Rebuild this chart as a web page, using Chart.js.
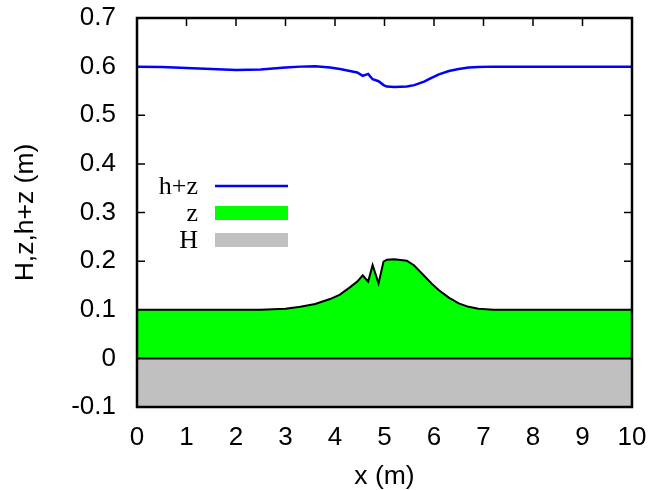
<!DOCTYPE html>
<html lang="en">
<head>
<meta charset="UTF-8" />
<title>H, z, h+z</title>
<script src="https://cdn.jsdelivr.net/npm/chart.js"></script>
<style>
  html, body { margin: 0; padding: 0; background: #fff; }
  #wrap { width: 654px; height: 490px; }
</style>
</head>
<body>
<div id="wrap"><canvas id="plot" width="654" height="490"></canvas></div>
<script>
  // positions along the channel (m)
  const xs = [0, 0.5, 1, 1.5, 2, 2.5, 3, 3.3, 3.6, 3.9, 4.1, 4.3, 4.45, 4.56, 4.67, 4.76, 4.88, 4.98,
              5.05, 5.2, 5.45, 5.6, 5.8, 5.95, 6.1, 6.3, 6.5, 6.7, 6.9, 7.2, 7.5, 8, 9, 10];
  // free surface h+z
  const hzVals = [0.600, 0.599, 0.597, 0.595, 0.593, 0.594, 0.598, 0.600, 0.601, 0.598, 0.595, 0.591, 0.588,
                  0.581, 0.585, 0.574, 0.570, 0.562, 0.559, 0.558, 0.559, 0.562, 0.569, 0.577, 0.584, 0.591,
                  0.595, 0.598, 0.599, 0.600, 0.600, 0.600, 0.600, 0.600];
  // bed z
  const zVals = [0.100, 0.100, 0.100, 0.100, 0.100, 0.100, 0.102, 0.106, 0.112, 0.122, 0.131, 0.146, 0.158,
                 0.171, 0.158, 0.192, 0.154, 0.199, 0.203, 0.204, 0.201, 0.191, 0.170, 0.154, 0.140, 0.125,
                 0.113, 0.106, 0.102, 0.100, 0.100, 0.100, 0.100, 0.100];
  // H (reference level)
  const hX = [0, 10];
  const hVals = [0, 0];

  const xTicks = [0, 1, 2, 3, 4, 5, 6, 7, 8, 9, 10];
  const yTicks = [-0.1, 0, 0.1, 0.2, 0.3, 0.4, 0.5, 0.6, 0.7];
  const yTickLabels = ['-0.1', '0', '0.1', '0.2', '0.3', '0.4', '0.5', '0.6', '0.7'];

  const sans = 'Liberation Sans, Arial, sans-serif';
  const serif = 'Liberation Serif, Times New Roman, serif';

  const pts = (xa, ya) => xa.map((x, i) => ({ x: x, y: ya[i] }));

  // frame, inward ticks on all four sides, and a gnuplot style key
  const frame = {
    id: 'frame',
    beforeDatasetsDraw(chart) {
      const { ctx, chartArea: a, scales: { x, y } } = chart;
      ctx.save();
      ctx.strokeStyle = '#000';
      ctx.lineWidth = 1.5;
      ctx.beginPath();
      xTicks.forEach(v => {
        const px = x.getPixelForValue(v);
        ctx.moveTo(px, a.bottom); ctx.lineTo(px, a.bottom - 8);
        ctx.moveTo(px, a.top); ctx.lineTo(px, a.top + 8);
      });
      yTicks.forEach(v => {
        const py = y.getPixelForValue(v);
        ctx.moveTo(a.left, py); ctx.lineTo(a.left + 8, py);
        ctx.moveTo(a.right, py); ctx.lineTo(a.right - 8, py);
      });
      ctx.stroke();
      ctx.restore();
    },
    afterDatasetsDraw(chart) {
      const { ctx, chartArea: a } = chart;
      ctx.save();
      ctx.strokeStyle = '#000';
      ctx.lineWidth = 2.5;
      ctx.strokeRect(a.left, a.top, a.right - a.left, a.bottom - a.top);

      // key: h+z, z, H
      const order = ['h+z', 'z', 'H'];
      ctx.font = '26px ' + serif;
      ctx.textAlign = 'right';
      ctx.textBaseline = 'middle';
      order.forEach((name, i) => {
        const ds = chart.data.datasets.find(d => d.label === name);
        const cy = 186 + i * 27;
        ctx.fillStyle = '#000';
        ctx.fillText(name, 198, cy + 1);
        if (ds.fill) {
          ctx.fillStyle = ds.backgroundColor;
          ctx.fillRect(215, cy - 7, 73, 14);
        } else {
          ctx.strokeStyle = ds.borderColor;
          ctx.lineWidth = ds.borderWidth;
          ctx.beginPath();
          ctx.moveTo(215, cy); ctx.lineTo(288, cy);
          ctx.stroke();
        }
      });
      ctx.restore();
    }
  };

  new Chart(document.getElementById('plot'), {
    type: 'line',
    data: {
      datasets: [
        { label: 'h+z', data: pts(xs, hzVals), borderColor: '#0000ff', borderWidth: 2.5,
          fill: false, pointRadius: 0, tension: 0 },
        { label: 'H', data: pts(hX, hVals), borderColor: '#000', backgroundColor: '#c0c0c0',
          borderWidth: 2, fill: 'start', pointRadius: 0, tension: 0 },
        { label: 'z', data: pts(xs, zVals), borderColor: '#000', backgroundColor: '#00ff00',
          borderWidth: 2, fill: 'origin', pointRadius: 0, tension: 0 }
      ]
    },
    options: {
      responsive: false,
      animation: false,
      layout: { padding: { top: 18, right: 22, left: 0, bottom: 0 } },
      plugins: { legend: { display: false }, tooltip: { enabled: false } },
      scales: {
        x: {
          type: 'linear', min: 0, max: 10,
          afterFit: s => { s.height = 83; s.paddingLeft = 0; s.paddingRight = 0; },
          afterBuildTicks: s => { s.ticks = xTicks.map(v => ({ value: v })); },
          grid: { display: false },
          border: { display: false },
          ticks: { color: '#000', font: { family: sans, size: 26 }, padding: 7, maxRotation: 0,
                   callback: v => String(v) },
          title: { display: true, text: 'x (m)', color: '#000',
                   font: { family: sans, size: 26.5, lineHeight: 1 },
                   padding: { top: 0, bottom: 0 } }
        },
        y: {
          type: 'linear', min: -0.1, max: 0.7,
          afterFit: s => { s.width = 137; s.paddingTop = 0; s.paddingBottom = 0; },
          afterBuildTicks: s => { s.ticks = yTicks.map(v => ({ value: v })); },
          grid: { display: false },
          border: { display: false },
          ticks: { color: '#000', font: { family: sans, size: 26 }, padding: 13,
                   callback: (v, i) => yTickLabels[i] },
          title: { display: true, text: 'H,z,h+z (m)', color: '#000',
                   font: { family: sans, size: 26.5, lineHeight: 1 },
                   padding: { top: 12, bottom: 0 } }
        }
      }
    },
    plugins: [frame]
  });
</script>
</body>
</html>
